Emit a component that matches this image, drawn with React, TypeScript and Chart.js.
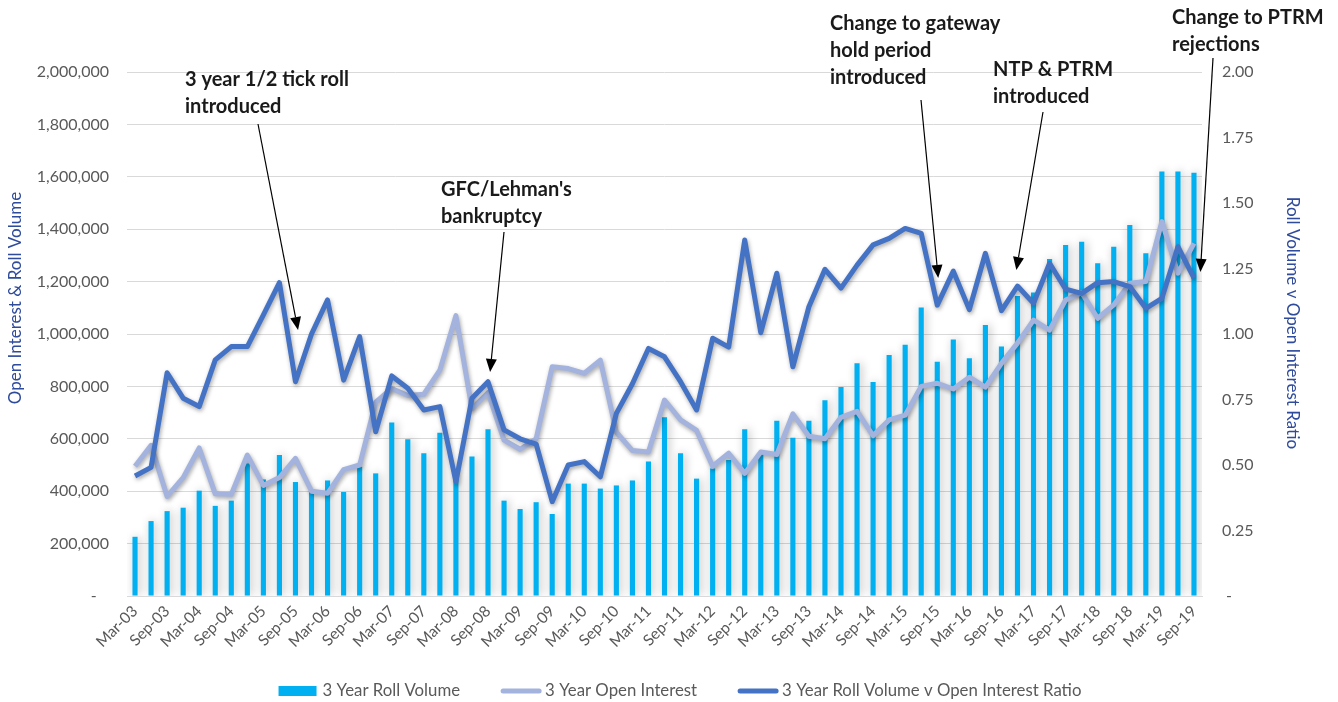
import React, { useEffect, useRef } from "react";
import { Chart, registerables } from "chart.js";

Chart.register(...registerables);

// ---------------- DATA ----------------
const quarterLabels = [
  "Mar-03", "Jun-03", "Sep-03", "Dec-03", "Mar-04", "Jun-04", "Sep-04", "Dec-04",
  "Mar-05", "Jun-05", "Sep-05", "Dec-05", "Mar-06", "Jun-06", "Sep-06", "Dec-06",
  "Mar-07", "Jun-07", "Sep-07", "Dec-07", "Mar-08", "Jun-08", "Sep-08", "Dec-08",
  "Mar-09", "Jun-09", "Sep-09", "Dec-09", "Mar-10", "Jun-10", "Sep-10", "Dec-10",
  "Mar-11", "Jun-11", "Sep-11", "Dec-11", "Mar-12", "Jun-12", "Sep-12", "Dec-12",
  "Mar-13", "Jun-13", "Sep-13", "Dec-13", "Mar-14", "Jun-14", "Sep-14", "Dec-14",
  "Mar-15", "Jun-15", "Sep-15", "Dec-15", "Mar-16", "Jun-16", "Sep-16", "Dec-16",
  "Mar-17", "Jun-17", "Sep-17", "Dec-17", "Mar-18", "Jun-18", "Sep-18", "Dec-18",
  "Mar-19", "Jun-19", "Sep-19",
];

const rollVolume = [
  226000, 286000, 324000, 337000, 402000, 344000, 364000, 506000, 445000, 538000,
  435000, 400000, 441000, 397000, 493000, 468000, 662000, 598000, 545000, 623000,
  465000, 532000, 636000, 364000, 332000, 358000, 313000, 429000, 429000, 410000,
  422000, 441000, 513000, 682000, 545000, 448000, 487000, 519000, 636000, 540000,
  669000, 604000, 669000, 747000, 798000, 888000, 817000, 920000, 959000, 1101000,
  894000, 979000, 907000, 1034000, 952000, 1145000, 1158000, 1286000, 1340000, 1352000,
  1270000, 1333000, 1416000, 1308000, 1620000, 1620000, 1615000,
];

const openInterest = [
  495000, 575000, 380000, 452000, 565000, 390000, 388000, 538000, 422000, 452000,
  525000, 400000, 392000, 482000, 500000, 740000, 792000, 765000, 770000, 862000,
  1070000, 715000, 776000, 595000, 560000, 600000, 875000, 868000, 850000, 900000,
  625000, 555000, 550000, 748000, 672000, 632000, 495000, 545000, 468000, 550000,
  540000, 695000, 610000, 600000, 682000, 705000, 612000, 672000, 690000, 800000,
  812000, 790000, 835000, 797000, 888000, 965000, 1053000, 1015000, 1130000, 1158000,
  1060000, 1111000, 1194000, 1200000, 1429000, 1232000, 1346000,
];

const volumeOiRatio = [
  0.458, 0.491, 0.852, 0.755, 0.723, 0.901, 0.952, 0.952, 1.073, 1.196,
  0.818, 1.0, 1.13, 0.824, 0.99, 0.627, 0.84, 0.793, 0.71, 0.723,
  0.436, 0.755, 0.818, 0.634, 0.6, 0.58, 0.36, 0.5, 0.513, 0.455,
  0.697, 0.81, 0.945, 0.913, 0.818, 0.71, 0.984, 0.95, 1.359, 1.005,
  1.232, 0.875, 1.104, 1.247, 1.175, 1.263, 1.34, 1.365, 1.403, 1.384,
  1.11, 1.24, 1.093, 1.308, 1.089, 1.183, 1.117, 1.27, 1.171, 1.155,
  1.196, 1.2, 1.181, 1.098, 1.136, 1.333, 1.213,
];

const seriesNames = [
  "3 Year Roll Volume",
  "3 Year Open Interest",
  "3 Year Roll Volume v Open Interest Ratio",
];

const leftAxisTitle = "Open Interest & Roll Volume";
const rightAxisTitle = "Roll Volume v Open Interest Ratio";

// annotation texts and the (category index, ratio) point each arrow aims at
const annotationTexts = [
  ["3 year 1/2 tick roll", "introduced"],
  ["GFC/Lehman's", "bankruptcy"],
  ["Change to gateway", "hold period", "introduced"],
  ["NTP & PTRM", "introduced"],
  ["Change to PTRM", "rejections"],
];
const annotationTargetIndex = [10.16, 22.13, 50.06, 54.93, 66.4];
const annotationTargetRatio = [1.015, 0.855, 1.214, 1.244, 1.237];

// ---------------- STYLE / LAYOUT ----------------
const BAR_COLOR = "#00B0F0";
const OI_COLOR = "#A3B3DD";
const RATIO_COLOR = "#4472C4";
const TICK_COLOR = "#595959";
const GRID_COLOR = "#D9D9D9";
const TITLE_COLOR = "#2F4B9C";
const FONT = "Lato";

const annotationLayout = [
  { x: 185, y: 80, from: [258, 124] },
  { x: 441, y: 190, from: [504, 232] },
  { x: 830, y: 24, from: [921, 100] },
  { x: 993, y: 70, from: [1043, 112] },
  { x: 1172, y: 18, from: [1213, 58] },
];

const shadowPlugin = {
  id: "shadowPlugin",
  beforeDatasetDraw(chart: any, args: any) {
    const ctx = chart.ctx;
    ctx.save();
    const ds = chart.data.datasets[args.index];
    if (ds.type === "line") {
      ctx.shadowColor = "rgba(0,0,0,0.35)";
      ctx.shadowBlur = 4;
      ctx.shadowOffsetX = 1;
      ctx.shadowOffsetY = 2;
    } else {
      ctx.shadowColor = "rgba(0,0,0,0.28)";
      ctx.shadowBlur = 10;
      ctx.shadowOffsetX = 2;
      ctx.shadowOffsetY = 0;
    }
  },
  afterDatasetDraw(chart: any) {
    chart.ctx.restore();
  },
};

const overlayPlugin = {
  id: "overlayPlugin",
  afterDraw(chart: any) {
    const ctx = chart.ctx;
    const xs = chart.scales.x;
    const y1 = chart.scales.y1;

    // axis titles
    ctx.save();
    ctx.fillStyle = TITLE_COLOR;
    ctx.font = `17px ${FONT}`;
    ctx.textAlign = "center";
    ctx.textBaseline = "middle";
    ctx.save();
    ctx.translate(16, 298);
    ctx.rotate(-Math.PI / 2);
    ctx.fillText(leftAxisTitle, 0, 0);
    ctx.restore();
    ctx.save();
    ctx.translate(1292, 323);
    ctx.rotate(Math.PI / 2);
    ctx.fillText(rightAxisTitle, 0, 0);
    ctx.restore();
    ctx.restore();

    // legend
    ctx.save();
    ctx.font = `16.8px ${FONT}`;
    ctx.textBaseline = "middle";
    ctx.textAlign = "left";
    const sw = 40;
    const gapS = 4;
    const gapI = 41;
    const widths = seriesNames.map((n) => ctx.measureText(n).width);
    const total = widths.reduce((a, w) => a + sw + gapS + w, 0) + gapI * (seriesNames.length - 1);
    let lx = 680 - total / 2;
    const ly = 691;
    const colors = [BAR_COLOR, OI_COLOR, RATIO_COLOR];
    seriesNames.forEach((n, i) => {
      if (i === 0) {
        ctx.fillStyle = colors[i];
        ctx.fillRect(lx, ly - 5, sw - 2, 10);
      } else {
        ctx.strokeStyle = colors[i];
        ctx.lineWidth = 5;
        ctx.lineCap = "round";
        ctx.beginPath();
        ctx.moveTo(lx + 2, ly);
        ctx.lineTo(lx + sw - 2, ly);
        ctx.stroke();
      }
      ctx.fillStyle = TICK_COLOR;
      ctx.fillText(n, lx + sw + gapS, ly);
      lx += sw + gapS + widths[i] + gapI;
    });
    ctx.restore();

    // annotations
    ctx.save();
    ctx.font = `bold 20px ${FONT}`;
    ctx.fillStyle = "#1a1a1a";
    ctx.textAlign = "left";
    ctx.textBaseline = "middle";
    annotationTexts.forEach((lines, i) => {
      const L = annotationLayout[i];
      ctx.fillStyle = "#1a1a1a";
      lines.forEach((t, k) => ctx.fillText(t, L.x, L.y + k * 26.8));
      const tx = xs.getPixelForValue(annotationTargetIndex[i]);
      const ty = y1.getPixelForValue(annotationTargetRatio[i]);
      const [fx, fy] = L.from;
      const ang = Math.atan2(ty - fy, tx - fx);
      const head = 13;
      const hw = 5.5;
      const bx = tx - head * Math.cos(ang);
      const by = ty - head * Math.sin(ang);
      ctx.strokeStyle = "#000";
      ctx.lineWidth = 1.2;
      ctx.beginPath();
      ctx.moveTo(fx, fy);
      ctx.lineTo(bx, by);
      ctx.stroke();
      ctx.fillStyle = "#000";
      ctx.beginPath();
      ctx.moveTo(tx, ty);
      ctx.lineTo(bx + hw * Math.sin(ang), by - hw * Math.cos(ang));
      ctx.lineTo(bx - hw * Math.sin(ang), by + hw * Math.cos(ang));
      ctx.closePath();
      ctx.fill();
    });
    ctx.restore();
  },
};

export default function App() {
  const canvasRef = useRef<HTMLCanvasElement | null>(null);

  useEffect(() => {
    if (!canvasRef.current) return;
    const chart = new Chart(canvasRef.current, {
      type: "bar",
      data: {
        labels: quarterLabels,
        datasets: [
          {
            type: "bar",
            label: seriesNames[0],
            data: rollVolume,
            backgroundColor: BAR_COLOR,
            yAxisID: "y",
            barPercentage: 0.32,
            categoryPercentage: 1,
            order: 3,
          } as any,
          {
            type: "line",
            label: seriesNames[1],
            data: openInterest,
            borderColor: OI_COLOR,
            backgroundColor: OI_COLOR,
            borderWidth: 5,
            pointRadius: 0,
            tension: 0,
            yAxisID: "y",
            order: 2,
            borderJoinStyle: "round",
          } as any,
          {
            type: "line",
            label: seriesNames[2],
            data: volumeOiRatio,
            borderColor: RATIO_COLOR,
            backgroundColor: RATIO_COLOR,
            borderWidth: 5,
            pointRadius: 0,
            tension: 0,
            yAxisID: "y1",
            order: 1,
            borderJoinStyle: "round",
          } as any,
        ],
      },
      options: {
        responsive: false,
        animation: false,
        layout: { padding: { top: 72, left: 0, right: 0, bottom: 0 } },
        plugins: {
          legend: { display: false },
          tooltip: { enabled: false },
        },
        scales: {
          x: {
            grid: { display: false, drawTicks: false },
            border: { display: true, color: GRID_COLOR },
            ticks: {
              autoSkip: false,
              minRotation: 45,
              maxRotation: 45,
              color: TICK_COLOR,
              font: { family: FONT, size: 15.5 },
              padding: 6,
              callback: (_v: any, i: number) => (i % 2 === 0 ? quarterLabels[i] : ""),
            },
            afterFit: (s: any) => {
              s.height = 106;
            },
          },
          y: {
            position: "left",
            min: 0,
            max: 2000000,
            grid: { color: GRID_COLOR, drawTicks: false },
            border: { display: false },
            ticks: {
              stepSize: 200000,
              color: TICK_COLOR,
              font: { family: FONT, size: 16 },
              padding: 18,
              callback: (v: any) => (Number(v) === 0 ? "-   " : Number(v).toLocaleString("en-US")),
            },
            afterFit: (s: any) => {
              s.width = 127;
            },
          },
          y1: {
            position: "right",
            min: 0,
            max: 2,
            grid: { display: false, drawTicks: false },
            border: { display: false },
            ticks: {
              stepSize: 0.25,
              color: TICK_COLOR,
              font: { family: FONT, size: 16 },
              padding: 20,
              callback: (v: any) => (Number(v) === 0 ? " -" : Number(v).toFixed(2)),
            },
            afterFit: (s: any) => {
              s.width = 136;
            },
          },
        },
      } as any,
      plugins: [shadowPlugin, overlayPlugin],
    });
    return () => chart.destroy();
  }, []);

  return (
    <div style={{ position: "absolute", left: 0, top: 0, width: 1338, height: 702, background: "#fff" }}>
      <canvas ref={canvasRef} width={1338} height={702} style={{ display: "block" }} />
    </div>
  );
}
